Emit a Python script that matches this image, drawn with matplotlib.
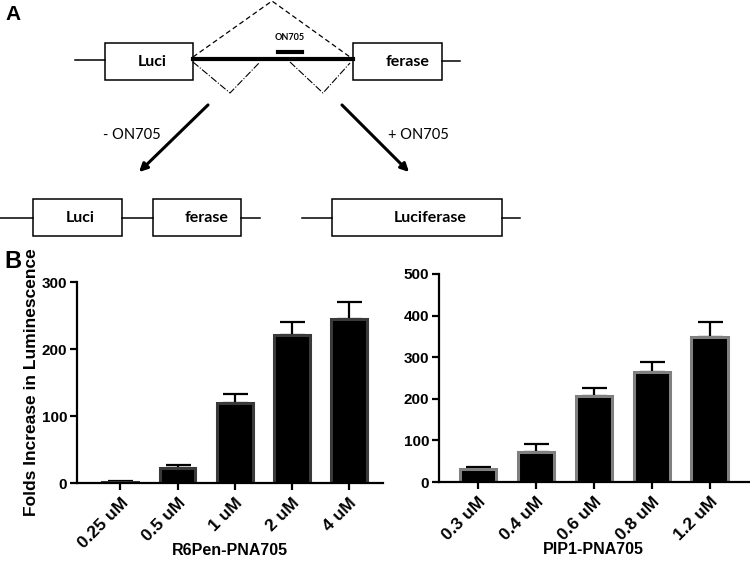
import matplotlib
matplotlib.use('Agg')
import matplotlib.pyplot as plt
from matplotlib.patches import Rectangle

# data for panel B
r6_labels = ['0.25 uM', '0.5 uM', '1 uM', '2 uM', '4 uM']
r6_values = [1, 22, 119, 221, 245]
r6_err = [2, 5, 14, 19, 25]

pip_labels = ['0.3 uM', '0.4 uM', '0.6 uM', '0.8 uM', '1.2 uM']
pip_values = [31, 72, 207, 264, 348]
pip_err = [5, 19, 19, 24, 36]

arial = ['Liberation Sans', 'DejaVu Sans']
plt.rcParams['font.family'] = arial

fig = plt.figure(figsize=(7.5, 5.67), dpi=100)

# --- panel A: splicing scheme, drawn in pixel coords ---
ax0 = fig.add_axes([0, 0, 1, 1])
ax0.set_xlim(0, 750)
ax0.set_ylim(567, 0)
ax0.axis('off')

diag_font = ['Lato', 'DejaVu Sans']


def exon(x0, x1, y0, y1, text, tx):
    ax0.add_patch(Rectangle((x0, y0), x1 - x0, y1 - y0, fill=False,
                            edgecolor='black', lw=1.1))
    ax0.text(tx, (y0 + y1) / 2 + 1, text, ha='center', va='center',
             fontsize=11.5, fontweight='bold', family=diag_font)


# top pre-mRNA
ax0.plot([75, 105], [60, 60], color='black', lw=1.1)
exon(105, 193, 43, 80, 'Luci', 152)
ax0.plot([193, 353], [59, 59], color='black', lw=3)
exon(353, 442, 43, 80, 'ferase', 408)
ax0.plot([442, 460], [61, 61], color='black', lw=1.1)

# splice paths
ax0.plot([193, 272, 350], [57, 1, 57], color='black', lw=0.9, ls=(0, (4, 2.5)))
ax0.plot([193, 230, 260], [62, 93, 62], color='black', lw=0.8, ls='-.')
ax0.plot([290, 323, 350], [62, 93, 63], color='black', lw=0.8, ls='-.')

# ON705 site
ax0.plot([278, 302], [52, 52], color='black', lw=3)
ax0.text(290, 38, 'ON705', ha='center', va='center', fontsize=6.5,
         fontweight='bold', family=diag_font)

# arrows
arrow_kw = dict(arrowstyle='-|>', color='black', lw=2.2, mutation_scale=12)
ax0.annotate('', xy=(137, 174), xytext=(210, 103), arrowprops=arrow_kw)
ax0.annotate('', xy=(411, 174), xytext=(340, 103), arrowprops=arrow_kw)
ax0.text(132, 135, '- ON705', ha='center', va='center', fontsize=10.5,
         family=diag_font)
ax0.text(418, 135, '+ ON705', ha='center', va='center', fontsize=10.5,
         family=diag_font)

# bottom left: skipped
ax0.plot([0, 33], [218, 218], color='black', lw=1.1)
exon(33, 122, 199, 236, 'Luci', 80)
ax0.plot([122, 153], [218, 218], color='black', lw=1.1)
exon(153, 241, 199, 236, 'ferase', 207)
ax0.plot([241, 260], [218, 218], color='black', lw=1.1)

# bottom right: corrected
ax0.plot([302, 332], [218, 218], color='black', lw=1.1)
exon(332, 502, 199, 236, 'Luciferase', 430)
ax0.plot([502, 520], [218, 218], color='black', lw=1.1)

ax0.text(5, 15, 'A', ha='left', va='center', fontsize=15, fontweight='bold')
ax0.text(4, 262, 'B', ha='left', va='center', fontsize=17, fontweight='bold')


# --- panel B bar charts ---
def bar_panel(ax, labels, values, err, edge, ymax, step, xlim, xlabel):
    x = range(len(values))
    ax.bar(x, values, width=0.63, color='black', edgecolor=edge, linewidth=2.2,
           zorder=2)
    ax.errorbar(x, values, yerr=[[0] * len(err), err], fmt='none',
                ecolor='black', elinewidth=1.6, capsize=9, capthick=1.6,
                zorder=1)
    ax.set_ylim(0, ymax)
    ax.set_xlim(*xlim)
    ax.set_yticks(range(0, ymax + 1, step))
    ax.set_xticks(list(x))
    ax.set_xticklabels(labels, rotation=45, ha='right', rotation_mode='anchor')
    for s in ['top', 'right']:
        ax.spines[s].set_visible(False)
    for s in ['left', 'bottom']:
        ax.spines[s].set_linewidth(1.6)
    ax.tick_params(width=1.6, length=5)
    ax.tick_params(axis='y', labelsize=11, pad=2)
    ax.tick_params(axis='x', labelsize=12.5, pad=4)
    for t in ax.get_xticklabels() + ax.get_yticklabels():
        t.set_fontweight('bold')
        t.set_family(arial)
    ax.set_xlabel(xlabel, fontsize=11.5, fontweight='bold', family=arial)


ax1 = fig.add_axes([0.1027, 0.1481, 0.408, 0.3545])
bar_panel(ax1, r6_labels, r6_values, r6_err, '#3a3a3a', 300, 100,
          (-0.76, 4.6), 'R6Pen-PNA705')
ax1.xaxis.set_label_coords(0.5, -0.30)
ax1.set_ylabel('Folds Increase in Luminescence', fontsize=12.5,
               fontweight='bold', family=arial)
ax1.yaxis.set_label_coords(-0.125, 0.5)

ax2 = fig.add_axes([0.5853, 0.1499, 0.4147, 0.3669])
bar_panel(ax2, pip_labels, pip_values, pip_err, '#808080', 500, 100,
          (-0.68, 4.7), 'PIP1-PNA705')
ax2.xaxis.set_label_coords(0.495, -0.29)

fig.savefig('out.png', dpi=100)
